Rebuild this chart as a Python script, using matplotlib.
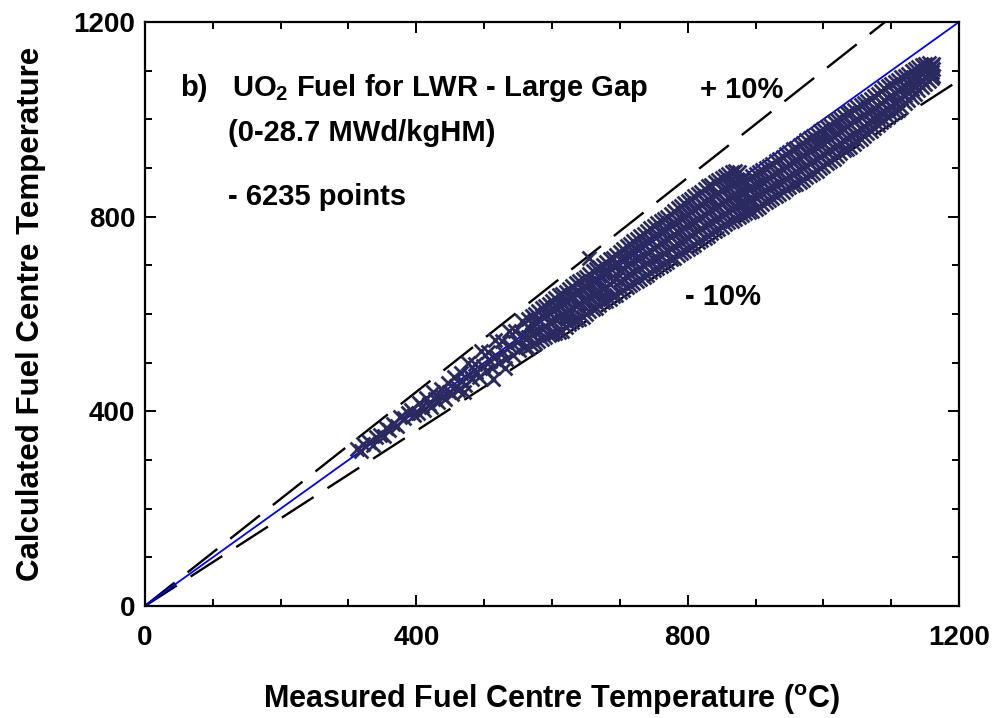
import matplotlib
matplotlib.use("Agg")
import matplotlib.pyplot as plt
from matplotlib.ticker import MultipleLocator

# bold Arial-like look of the original
plt.rcParams['font.family'] = ['Liberation Sans', 'DejaVu Sans']
plt.rcParams['font.weight'] = 'bold'
plt.rcParams['mathtext.fontset'] = 'custom'
plt.rcParams['mathtext.rm'] = 'Liberation Sans:bold'
plt.rcParams['mathtext.bf'] = 'Liberation Sans:bold'
plt.rcParams['mathtext.it'] = 'Liberation Sans:bold'

# --- data (measured vs calculated centre temperature, degC) ---
# sparse low-temperature end
meas_a = [312, 318, 322, 330, 336, 340, 346, 352, 356, 360, 366, 372, 376, 382, 388, 392, 396]
calc_a = [322, 318, 332, 336, 330, 348, 352, 350, 366, 362, 374, 370, 388, 386, 396, 402, 392]

# 400 - 560 degC
meas_b = [402, 404, 408, 412, 414, 418, 422, 424, 428, 432, 436, 438, 442, 446, 448, 452, 456,
          458, 462, 466, 468, 470, 472, 476, 478, 482, 486, 488, 492, 496, 498, 502, 506, 508,
          512, 513, 516, 518, 522, 526, 528, 530, 532, 536, 538, 542, 546, 548, 552, 556, 558, 560]
calc_b = [396, 418, 410, 402, 428, 415, 408, 440, 426, 420, 446, 432, 425, 458, 440, 436, 470,
          452, 444, 478, 462, 440, 455, 500, 474, 466, 498, 480, 470, 524, 494, 482, 522, 504,
          490, 466, 546, 514, 500, 544, 522, 490, 508, 566, 534, 516, 566, 542, 526, 586, 552, 532]

# 560 - 700 degC (several calculated values per measured value)
meas_c = [565, 570, 575, 580, 585, 590, 595, 600, 605, 610, 615, 620, 625, 630, 635, 640,
          645, 650, 655, 660, 665, 670, 675, 680, 685, 690, 695]
calc_c = [[530, 552, 574, 590], [536, 558, 580, 596], [540, 566, 584, 600], [544, 568, 590, 606],
          [548, 570, 596, 612], [552, 576, 600, 616], [556, 584, 604, 620], [558, 586, 610, 626],
          [560, 590, 616, 632], [564, 594, 620, 638], [566, 598, 624, 642], [574, 602, 628, 646],
          [580, 608, 634, 652], [584, 612, 640, 658], [588, 616, 646, 664], [590, 620, 648, 668],
          [594, 626, 652, 672], [600, 630, 658, 676], [606, 634, 664, 682, 715], [610, 640, 668, 688],
          [612, 644, 672, 692], [618, 648, 678, 696], [624, 652, 684, 700], [626, 656, 688, 706],
          [630, 662, 694, 712], [636, 668, 698, 716], [640, 672, 702, 722]]

# 700 - 880 degC, densest part
meas_d = [700, 705, 710, 715, 720, 725, 730, 735, 740, 745, 750, 755, 760, 765, 770, 775, 780,
          785, 790, 795, 800, 805, 810, 815, 820, 825, 830, 835, 840, 845, 850, 855, 860, 865,
          870, 875, 880]
calc_d = [[646, 668, 690, 712, 728], [650, 672, 694, 716, 734], [656, 678, 700, 722, 740],
          [660, 682, 704, 726, 744], [664, 686, 708, 730, 750], [668, 690, 712, 734, 754],
          [672, 694, 716, 740, 760], [676, 698, 722, 744, 764], [680, 704, 726, 750, 770],
          [686, 708, 730, 754, 776], [690, 712, 736, 760, 780], [694, 716, 740, 764, 786],
          [698, 720, 746, 770, 792], [702, 726, 750, 774, 796], [706, 730, 754, 778, 800],
          [712, 734, 758, 782, 806], [716, 740, 764, 788, 812], [722, 744, 768, 792, 818],
          [726, 748, 772, 796, 822], [730, 752, 776, 800, 828], [734, 756, 782, 806, 832],
          [738, 762, 786, 810, 836], [742, 766, 790, 816, 842], [748, 770, 796, 820, 846],
          [752, 776, 800, 826, 850], [756, 780, 804, 830, 856], [760, 784, 810, 836, 862],
          [766, 788, 814, 840, 866], [770, 794, 818, 844, 872], [774, 798, 822, 848, 876],
          [778, 802, 828, 854, 880], [784, 806, 832, 858, 884], [788, 812, 838, 862, 888],
          [792, 816, 842, 866, 892], [796, 820, 846, 870, 894], [800, 824, 850, 874, 892],
          [804, 828, 852, 876]]

# 880 - 1165 degC, under-predicted branch
meas_e = [885, 890, 895, 900, 905, 910, 915, 920, 925, 930, 935, 940, 945, 950, 955, 960, 965,
          970, 975, 980, 985, 990, 995, 1000, 1005, 1010, 1015, 1020, 1025, 1030, 1035, 1040,
          1045, 1050, 1055, 1060, 1065, 1070, 1075, 1080, 1085, 1090, 1095, 1100, 1105, 1110,
          1115, 1120, 1125, 1130, 1135, 1140, 1145, 1150, 1155, 1160, 1162]
calc_e = [[808, 830, 852, 874], [810, 834, 856, 878], [812, 836, 860, 884], [816, 840, 864, 888],
          [820, 844, 868, 892], [826, 848, 872, 896], [830, 852, 876, 900], [834, 858, 880, 904],
          [838, 862, 886, 908], [842, 866, 890, 914], [846, 870, 894, 918], [850, 874, 898, 922],
          [856, 878, 902, 928], [860, 884, 908, 932], [864, 888, 912, 938], [868, 892, 916, 942],
          [872, 896, 920, 948], [876, 900, 926, 952], [882, 904, 930, 958], [886, 910, 934, 962],
          [890, 914, 940, 966], [894, 918, 944, 970], [900, 922, 948, 976], [904, 928, 952, 980],
          [910, 932, 956, 984], [914, 936, 962, 988], [918, 942, 966, 994], [924, 946, 970, 998],
          [930, 952, 976, 1002], [936, 958, 980, 1006], [940, 962, 986, 1012], [944, 966, 990, 1016],
          [950, 970, 996, 1020], [956, 976, 1000, 1026], [960, 980, 1004, 1030], [966, 986, 1008, 1034],
          [972, 992, 1014, 1038], [976, 996, 1018, 1042], [982, 1002, 1024, 1048], [988, 1006, 1028, 1052],
          [994, 1012, 1034, 1058], [998, 1018, 1040, 1064], [1004, 1022, 1044, 1068],
          [1010, 1028, 1048, 1072], [1016, 1034, 1054, 1076], [1020, 1040, 1060, 1080],
          [1026, 1044, 1064, 1086], [1034, 1050, 1068, 1090], [1040, 1056, 1074, 1094],
          [1046, 1062, 1080, 1100], [1052, 1068, 1086, 1104], [1060, 1074, 1090, 1108],
          [1066, 1080, 1096, 1112], [1072, 1086, 1100, 1114], [1078, 1092, 1106, 1116],
          [1084, 1098, 1110], [1090, 1104, 1114]]

axis_range = [0, 1200]
tick_values = [0, 400, 800, 1200]

# flatten into one measured/calculated series
meas = list(meas_a) + list(meas_b)
calc = list(calc_a) + list(calc_b)
for xs, ys in [(meas_c, calc_c), (meas_d, calc_d), (meas_e, calc_e)]:
    for x, col in zip(xs, ys):
        for y in col:
            meas.append(x)
            calc.append(y)

fig = plt.figure(figsize=(9.93, 7.18), dpi=100)
ax = fig.add_axes([0.146, 0.156, 0.8198, 0.8134])

# +/- 10% bands and the 1:1 line
ax.plot(axis_range, [1.1 * v for v in axis_range], color='black', lw=1.7, dashes=(16, 7))
ax.plot(axis_range, [0.9 * v for v in axis_range], color='black', lw=1.7, dashes=(16, 7))
ax.plot(axis_range, axis_range, color='#0000ff', lw=1.3)

ax.scatter(meas, calc, marker='x', s=100, linewidths=2.0, color='#2a2960', zorder=3)

ax.set_xlim(axis_range)
ax.set_ylim(axis_range)
ax.set_xticks(tick_values)
ax.set_yticks(tick_values)
ax.xaxis.set_minor_locator(MultipleLocator(100))
ax.yaxis.set_minor_locator(MultipleLocator(100))
ax.tick_params(which='both', direction='in', top=True, right=True, width=1.4)
ax.tick_params(which='major', length=8)
ax.tick_params(which='minor', length=5)
ax.tick_params(axis='x', pad=14, labelsize=20)
ax.tick_params(axis='y', pad=7, labelsize=20)
for lab in ax.get_xticklabels() + ax.get_yticklabels():
    lab.set_fontweight('bold')
for sp in ax.spines.values():
    sp.set_linewidth(1.6)

ax.set_xlabel(r'Measured Fuel Centre Temperature ($^{o}$C)', fontsize=22, fontweight='bold', labelpad=22)
ax.set_ylabel('Calculated Fuel Centre Temperature', fontsize=22.5, fontweight='bold', labelpad=20)

ax.text(52, 1064, 'b)', fontsize=21, fontweight='bold', va='center')
ax.text(128, 1064, r'UO$_2$ Fuel for LWR - Large Gap', fontsize=21, fontweight='bold', va='center')
ax.text(122, 972, '(0-28.7 MWd/kgHM)', fontsize=21, fontweight='bold', va='center')
ax.text(122, 840, '- 6235 points', fontsize=21, fontweight='bold', va='center')
ax.text(818, 1060, '+ 10%', fontsize=21, fontweight='bold', va='center')
ax.text(796, 635, '- 10%', fontsize=21, fontweight='bold', va='center')

fig.savefig('out.png', dpi=100)
